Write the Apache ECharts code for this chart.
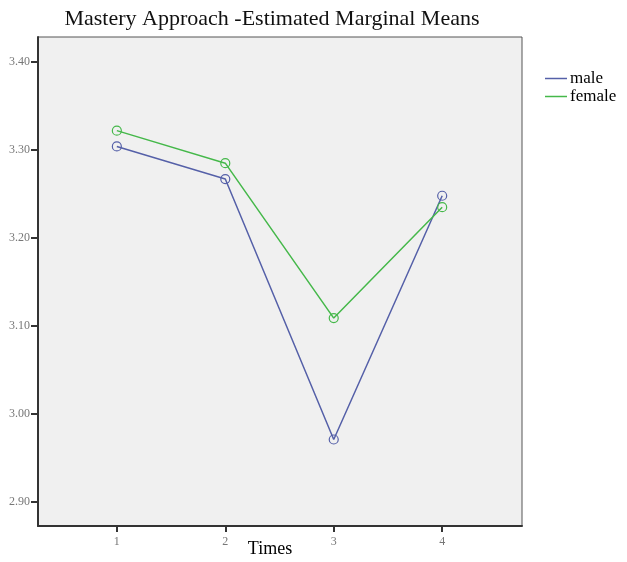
<!DOCTYPE html>
<html><head><meta charset="utf-8">
<script src="https://cdn.jsdelivr.net/npm/echarts@6/dist/echarts.min.js"></script>
<style>html,body{margin:0;padding:0;background:#fff}#c{width:627px;height:562px}</style>
</head><body><div id="c"></div>
<script>
const times = [1, 2, 3, 4];
const male = [3.304, 3.267, 2.971, 3.248];
const female = [3.322, 3.285, 3.109, 3.235];
const yTicks = [2.90, 3.00, 3.10, 3.20, 3.30, 3.40];

const chart = echarts.init(document.getElementById('c'));
const serif = '"Liberation Serif","DejaVu Serif",serif';
const maleColor = '#5560a8', femaleColor = '#45b84a';
chart.setOption({
  animation: false,
  backgroundColor: '#fff',
  title: {
    text: 'Mastery Approach -Estimated Marginal Means',
    left: 267, top: 3, textAlign: 'center',
    textStyle: {fontFamily: serif, fontSize: 22, fontWeight: 'normal', color: '#111'}
  },
  legend: {
    orient: 'vertical', left: 540, top: 65, itemGap: 1,
    itemWidth: 22, itemHeight: 1.5, icon: 'rect',
    textStyle: {fontFamily: serif, fontSize: 17, color: '#000', padding: [0,0,0,-2]},
    data: [
      {name: 'male', itemStyle: {color: maleColor, borderWidth: 0}},
      {name: 'female', itemStyle: {color: femaleColor, borderWidth: 0}}
    ]
  },
  grid: {
    left: 38, top: 37, right: 105, bottom: 36,
    outerBoundsMode: 'none', containLabel: false,
    show: true, backgroundColor: '#f0f0f0', borderColor: '#555', borderWidth: 1
  },
  xAxis: {
    type: 'value', min: 0.273, max: 4.736,
    name: 'Times', nameLocation: 'middle', nameGap: 14, nameMoveOverlap: false,
    nameTextStyle: {fontFamily: serif, fontSize: 18, color: '#000', padding: [0,20,0,0]},
    axisLine: {show: true, lineStyle: {color: '#333', width: 2}},
    axisTick: {show: true, customValues: times, length: 6, lineStyle: {color: '#333', width: 2}},
    axisLabel: {customValues: times, fontFamily: serif, fontSize: 12, color: '#777', margin: 10},
    splitLine: {show: false}
  },
  yAxis: {
    type: 'value', min: 2.8727, max: 3.4284,
    axisLine: {show: true, lineStyle: {color: '#333', width: 2}},
    axisTick: {show: true, customValues: yTicks, length: 7, lineStyle: {color: '#333', width: 2}},
    axisLabel: {customValues: yTicks, fontFamily: serif, fontSize: 12, color: '#777', margin: 8,
      formatter: v => v.toFixed(2)},
    splitLine: {show: false}
  },
  series: [
    {name: 'male', type: 'line', data: times.map((t,i)=>[t, male[i]]),
     symbol: 'circle', symbolSize: 9,
     itemStyle: {color: 'rgba(0,0,0,0)', borderColor: maleColor, borderWidth: 1.2},
     lineStyle: {color: maleColor, width: 1.5}},
    {name: 'female', type: 'line', data: times.map((t,i)=>[t, female[i]]),
     symbol: 'circle', symbolSize: 9,
     itemStyle: {color: 'rgba(0,0,0,0)', borderColor: femaleColor, borderWidth: 1.2},
     lineStyle: {color: femaleColor, width: 1.5}}
  ]
});
</script></body></html>
